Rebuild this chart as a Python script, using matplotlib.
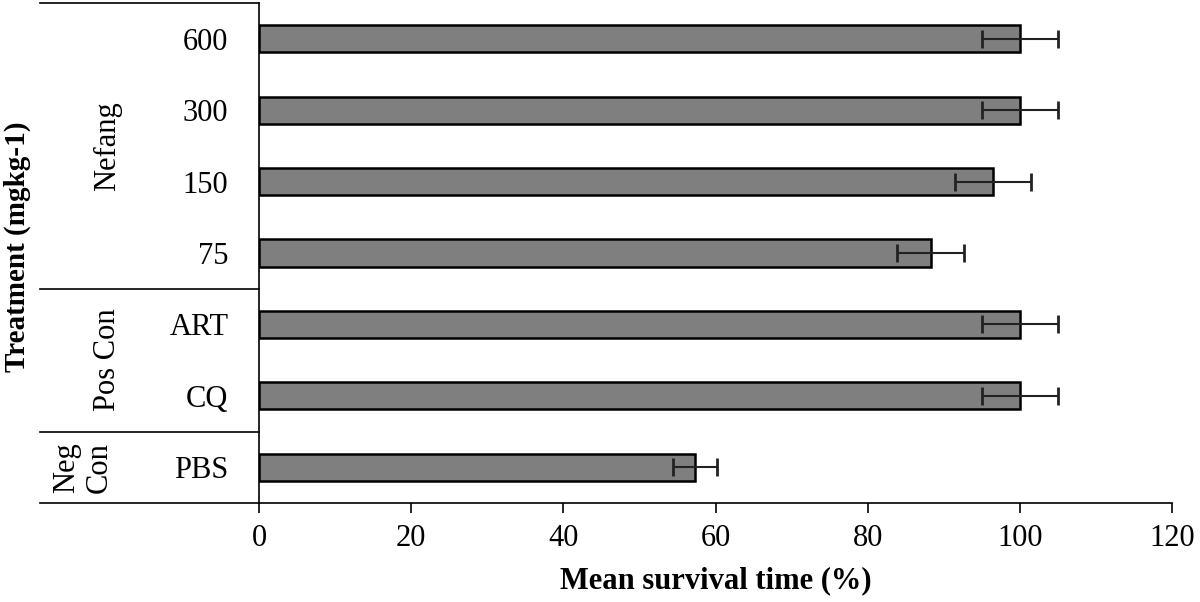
import matplotlib
matplotlib.use("Agg")
import matplotlib.pyplot as plt
import numpy as np

plt.rcParams['font.family'] = ['Liberation Serif', 'DejaVu Serif']

# data, top to bottom
labels = ["600", "300", "150", "75", "ART", "CQ", "PBS"]
survival = [100, 100, 96.5, 88.3, 100, 100, 57.3]
errors = [5, 5, 5, 4.4, 5, 5, 2.9]
groups = ["Nefang", "Pos Con", "Neg\nCon"]
group_sizes = [4, 2, 1]

fig = plt.figure(figsize=(12, 6.02), dpi=100)
ax = fig.add_axes([0.2158, 0.1645, 0.7609, 0.8305])

y = np.arange(len(labels))
ax.barh(y, survival, height=0.38, color="#7f7f7f", edgecolor="black",
        linewidth=1.8, xerr=errors,
        error_kw=dict(ecolor="#222222", elinewidth=1.5, capsize=6.5, capthick=2))

ax.set_ylim(len(labels) - 0.5, -0.5)
ax.set_xlim(0, 120)
ax.set_xticks(np.arange(0, 121, 20))
ax.set_yticks(y)
ax.set_yticklabels(labels)
ax.tick_params(axis="y", length=0, pad=22, labelsize=22)
ax.tick_params(axis="x", direction="out", length=7, width=1.2, labelsize=22, pad=8)

for s in ["top", "right", "bottom"]:
    ax.spines[s].set_visible(False)
ax.spines["left"].set_linewidth(1.2)

left = -0.24
# bottom axis line extending under the labels
ax.plot([left, 1], [0, 0], transform=ax.transAxes, color="black", lw=1.2, clip_on=False)
ax.plot([left, 0], [1, 1], transform=ax.transAxes, color="black", lw=1.2, clip_on=False)
trans = ax.get_yaxis_transform()
xpos = [-0.166, -0.166, -0.193]
start = -0.5
for name, n, xp in zip(groups, group_sizes, xpos):
    end = start + n
    if end < len(labels) - 0.5:
        ax.plot([left, 0], [end, end], transform=trans, color="black", lw=1.2, clip_on=False)
    ax.text(xp, (start + end) / 2, name, transform=trans, rotation=90,
            ha="center", va="center", fontsize=22, linespacing=1.15)
    start = end

ax.set_xlabel("Mean survival time (%)", fontsize=22, fontweight="bold", labelpad=10)
fig.text(0.003, 0.59, "Treatment (mgkg-1)", rotation=90, ha="left", va="center",
         fontsize=21, fontweight="bold")

fig.savefig("out.png", dpi=100)
